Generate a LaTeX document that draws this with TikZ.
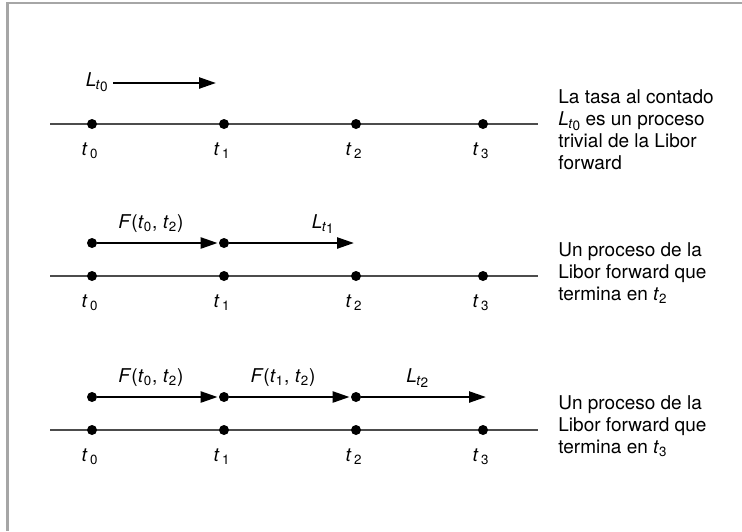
\documentclass[tikz,border=0pt]{standalone}
\usepackage{fontspec}
\setmainfont{TeX Gyre Heros}
\usetikzlibrary{arrows.meta,positioning}
\newcommand{\tsub}[1]{\textit{t}\textsubscript{#1}}
\newcommand{\tick}[1]{\textit{t}\kern1.2pt\textsubscript{#1}}
\newcommand{\Lsub}[1]{\textit{L}\kern-0.3pt\raisebox{-0.35ex}{\fontsize{6.8}{7}\selectfont\textit{t}\raisebox{-0.3ex}{#1}}}
\newcommand{\Fpair}[2]{\textit{F}(\tsub{#1}, \tsub{#2})}
\lineskiplimit=-6pt

\begin{document}
\begin{tikzpicture}[x=0.5pt,y=-0.5pt,
  frame/.style={draw=black!35,line width=1.25pt},
  axis/.style={draw=black!70,line width=0.75pt},
  dot/.style={circle,fill=black,inner sep=0pt,minimum size=5pt},
  flow/.style={-{Triangle[length=8.5pt,width=5.5pt]},line width=1.2pt,shorten >=0.5pt},
  tlab/.style={inner sep=0pt,xshift=-1pt},
  flab/.style={anchor=base,yshift=7.5pt,xshift=-3.5pt},
  note/.style={align=left,anchor=north west,inner sep=0pt},
  font=\fontsize{9.5}{11}\selectfont
]
\useasboundingbox (0,0) rectangle (742,531);
\draw[frame] (7.5,531) -- (7.5,3) -- (742,3);

% spot rate
\coordinate (aL) at (50,124);
\coordinate (aR) at (538,124);
\draw[axis] (aL) -- (aR);
\foreach \i/\x in {0/92,1/224,2/356,3/483} {
  \node[dot] (a\i) at (\x,124) {};
  \node[tlab,below=6.5pt of a\i] {\tick{\i}};
}
\coordinate (a0u) at (113,83);
\coordinate (a1u) at (217,83);
\node[anchor=base east,inner sep=0pt] (lt0) at ([xshift=-2.5pt,yshift=-1.5pt]a0u) {\Lsub{0}};
\draw[flow] (a0u) -- (a1u);
\node[note] (txa) at (558,89) {La tasa al contado\\\Lsub{0} es un proceso\\trivial de la Libor\\forward};

% forward ending at t2
\coordinate (bL) at (50,276);
\coordinate (bR) at (538,276);
\draw[axis] (bL) -- (bR);
\foreach \i/\x in {0/92,1/224,2/356,3/483} {
  \node[dot] (b\i) at (\x,276) {};
  \node[tlab,below=6.5pt of b\i] {\tick{\i}};
}
\node[dot] (bu0) at (92,243) {};
\node[dot] (bu1) at (224,243) {};
\coordinate (bu2) at (355,243);
\draw[flow] (bu0) -- node[flab,midway] {\Fpair{0}{2}} (bu1);
\draw[flow] (bu1) -- node[flab,pos=0.8] {\Lsub{1}} (bu2);
\node[note] (txb) at (558,242) {Un proceso de la\\Libor forward que\\termina en \tsub{2}};

% forward ending at t3
\coordinate (cL) at (50,430);
\coordinate (cR) at (538,430);
\draw[axis] (cL) -- (cR);
\foreach \i/\x in {0/92,1/224,2/356,3/483} {
  \node[dot] (c\i) at (\x,430) {};
  \node[tlab,below=6.5pt of c\i] {\tick{\i}};
}
\node[dot] (cu0) at (92,397) {};
\node[dot] (cu1) at (224,397) {};
\node[dot] (cu2) at (356,397) {};
\coordinate (cu3) at (487,397);
\draw[flow] (cu0) -- node[flab,midway] {\Fpair{0}{2}} (cu1);
\draw[flow] (cu1) -- node[flab,midway] {\Fpair{1}{2}} (cu2);
\draw[flow] (cu2) -- node[flab,midway] {\Lsub{2}} (cu3);
\node[note] (txc) at (558,395) {Un proceso de la\\Libor forward que\\termina en \tsub{3}};
\end{tikzpicture}
\end{document}
